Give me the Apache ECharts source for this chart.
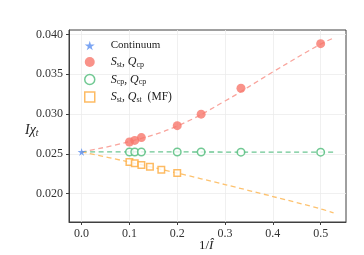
<!DOCTYPE html>
<html><head><meta charset="utf-8">
<script src="https://cdn.jsdelivr.net/npm/echarts@6/dist/echarts.min.js"></script>
<style>html,body{margin:0;padding:0;background:#fff}#c{width:364px;height:255px}</style>
</head><body><div id="c"></div>
<script>
// Data
const continuum = [[0, 0.02525]];
const xStCp = [0.1, 0.1111, 0.125, 0.2, 0.25, 0.3333, 0.5];
const yStCp = [0.02650, 0.02670, 0.02705, 0.02855, 0.03000, 0.03325, 0.03885];
const xCpCp = [0.1, 0.1111, 0.125, 0.2, 0.25, 0.3333, 0.5];
const yCpCp = [0.02525, 0.02525, 0.02525, 0.02525, 0.02525, 0.02522, 0.02522];
const xStSt = [0.1, 0.1111, 0.125, 0.1429, 0.1667, 0.2];
const yStSt = [0.02400, 0.02382, 0.02362, 0.02340, 0.02300, 0.02262];
// fitted dashed curves
const fitX = [0, 0.1, 0.2, 0.3, 0.4, 0.5, 0.527];
const fitStCp = [0.02525, 0.02655, 0.02850, 0.03165, 0.03530, 0.03880, 0.03955];
const fitCpCp = [0.02525, 0.02525, 0.02525, 0.02524, 0.02523, 0.02522, 0.02522];
const fitStSt = [0.02525, 0.02398, 0.02260, 0.02115, 0.01965, 0.01810, 0.01760];
const xTicks = [0, 0.1, 0.2, 0.3, 0.4, 0.5];
const yTicks = [0.020, 0.025, 0.030, 0.035, 0.040];

const zip = (a, b) => a.map((v, i) => [v, b[i]]);
const FONT = 'Liberation Serif';
const star = 'path://M50,0 L61,35 L98,35 L68,57 L79,91 L50,70 L21,91 L32,57 L2,35 L39,35 Z';
const C = {blue:'#5b8ff0', red:'#f8776b', green:'#4dbb78', orange:'#fdaa3c'};
const chart = echarts.init(document.getElementById('c'), null, {renderer:'canvas'});
const legendFmt = {
  Continuum: 'Continuum',
  StCp: '{i|S}{s|st}{n|, }{i|Q}{s|cp}',
  CpCp: '{i|S}{s|cp}{n|, }{i|Q}{s|cp}',
  StSt: '{i|S}{s|st}{n|, }{i|Q}{s|st}{n|  (MF)}'
};
chart.setOption({
  animation: false,
  grid: {left: 69, right: 18, top: 30, bottom: 33, show: true, borderColor: '#404040', borderWidth: 1},
  xAxis: {
    type: 'value', min: -0.0264, max: 0.553,
    axisLine: {show: true, onZero: false, lineStyle: {color: '#404040'}},
    axisTick: {show: true, length: 3, customValues: xTicks, lineStyle: {color: '#404040'}},
    axisLabel: {customValues: xTicks, formatter: v => v.toFixed(1), fontFamily: FONT, fontSize: 12, color: '#333', margin: 6},
    splitLine: {show: true, lineStyle: {color: '#ececec', width: 0.8}}
  },
  yAxis: {
    type: 'value', min: 0.01645, max: 0.04057,
    axisLine: {show: true, onZero: false, lineStyle: {color: '#404040'}},
    axisTick: {show: true, length: 3, customValues: yTicks, lineStyle: {color: '#404040'}},
    axisLabel: {customValues: yTicks, formatter: v => v.toFixed(3), fontFamily: FONT, fontSize: 12, color: '#333', margin: 6},
    splitLine: {show: true, lineStyle: {color: '#ececec', width: 0.8}}
  },
  legend: {
    orient: 'vertical', left: 79, top: 35, itemGap: 5, itemWidth: 10, itemHeight: 10,
    data: [
      {name: 'Continuum', icon: star, itemStyle: {color: C.blue}},
      {name: 'StCp', icon: 'circle', itemStyle: {color: C.red}},
      {name: 'CpCp', icon: 'circle', itemStyle: {color: '#fff', borderColor: C.green, borderWidth: 1.5}},
      {name: 'StSt', icon: 'rect', itemStyle: {color: '#fff', borderColor: C.orange, borderWidth: 1.5}}
    ],
    formatter: n => legendFmt[n],
    textStyle: {
      fontFamily: FONT, fontSize: 11, color: '#222', padding: [0, 0, 0, 11],
      rich: {
        i: {fontFamily: FONT, fontStyle: 'italic', fontSize: 12, color: '#222'},
        s: {fontFamily: FONT, fontSize: 8, color: '#222', verticalAlign: 'bottom', padding: [5, 0, 0, 0]},
        n: {fontFamily: FONT, fontSize: 11.5, color: '#222'}
      }
    }
  },
  graphic: [
    {type: 'text', left: 25, top: 123, style: {
      text: '{i|Iχ}{s|t}', fill: '#222',
      rich: {i: {fontFamily: FONT, fontStyle: 'italic', fontSize: 14, fill: '#222'},
             s: {fontFamily: FONT, fontStyle: 'italic', fontSize: 9.5, fill: '#222', padding: [7, 0, 0, 0]}}
    }},
    {type: 'text', left: 199, top: 239, style: {
      text: '1/{i|Î}', fill: '#222', font: '13px "Liberation Serif"',
      rich: {i: {fontFamily: FONT, fontStyle: 'italic', fontSize: 13, fill: '#222'}}
    }}
  ],
  series: [
    {type: 'line', data: zip(fitX, fitStCp), smooth: 0.4, showSymbol: false, silent: true, z: 1,
     lineStyle: {color: '#f9a59d', width: 1.3, type: [5, 3.5]}},
    {type: 'line', data: zip(fitX, fitCpCp), smooth: false, showSymbol: false, silent: true, z: 1,
     lineStyle: {color: '#6cc693', width: 1.3, type: [5, 3.5]}},
    {type: 'line', data: zip(fitX, fitStSt), smooth: 0.3, showSymbol: false, silent: true, z: 1,
     lineStyle: {color: '#fdc26f', width: 1.3, type: [5, 3.5]}},
    {name: 'Continuum', type: 'scatter', data: continuum, symbol: star, symbolSize: 8, z: 5,
     itemStyle: {color: C.blue}},
    {name: 'StCp', type: 'scatter', data: zip(xStCp, yStCp), symbol: 'circle', symbolSize: 9, z: 5,
     itemStyle: {color: C.red}},
    {name: 'CpCp', type: 'scatter', data: zip(xCpCp, yCpCp), symbol: 'circle', symbolSize: 7.5, z: 5,
     itemStyle: {color: '#fff', borderColor: C.green, borderWidth: 1.5}},
    {name: 'StSt', type: 'scatter', data: zip(xStSt, yStSt), symbol: 'rect', symbolSize: 6.5, z: 5,
     itemStyle: {color: '#fff', borderColor: C.orange, borderWidth: 1.5}}
  ]
});
</script></body></html>
